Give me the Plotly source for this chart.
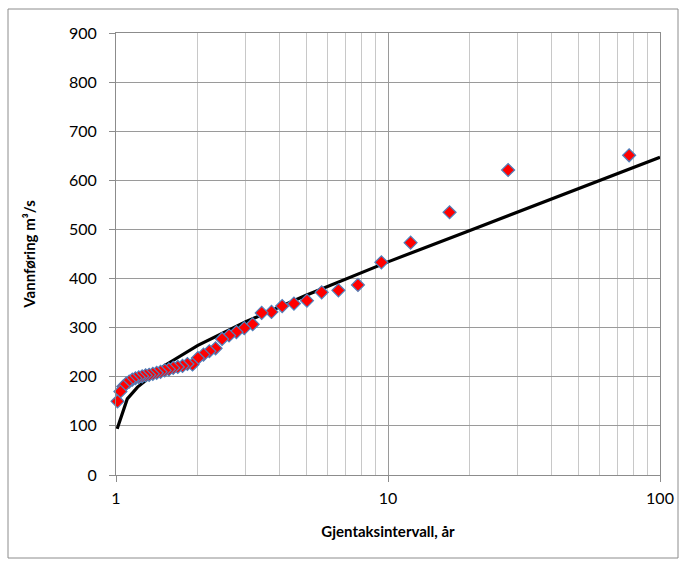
import plotly.graph_objects as go

# Observed annual flood peaks, plotted at their return period (years)
gjentak_obs = [77.0, 27.64, 16.84, 12.11, 9.456, 7.755, 6.573, 5.704, 5.037, 4.510,
               4.083, 3.730, 3.433, 3.180, 2.962, 2.771, 2.604, 2.455, 2.323, 2.204,
               2.097, 2.000, 1.911, 1.830, 1.756, 1.687, 1.623, 1.565, 1.510, 1.458,
               1.411, 1.366, 1.324, 1.285, 1.248, 1.213, 1.179, 1.148, 1.118, 1.090,
               1.063, 1.038, 1.013]
vannforing_obs = [651, 621, 535, 473, 433, 387, 376, 372, 355, 349,
                  344, 332, 330, 307, 299, 291, 284, 277, 258, 252,
                  245, 238, 225, 226, 222, 220, 218, 215, 213, 210,
                  208, 206, 204, 203, 201, 199, 197, 194, 190, 186,
                  180, 170, 150]

# Fitted frequency curve
gjentak_fit = [1.01, 1.1, 1.2, 1.5, 2, 3, 5, 10, 20, 50, 100]
vannforing_fit = [94, 155, 179, 222, 264, 312, 366, 434, 498, 582, 647]

y_ticks = [0, 100, 200, 300, 400, 500, 600, 700, 800, 900]
x_ticks = [1, 10, 100]
x_minor = [2, 3, 4, 5, 6, 7, 8, 9, 20, 30, 40, 50, 60, 70, 80, 90]

W, H = 686, 566
L, R, T, B = 116, 26, 33, 91

fig = go.Figure()
fig.add_trace(go.Scatter(
    x=gjentak_fit, y=vannforing_fit, mode="lines",
    line=dict(color="black", width=3.2), cliponaxis=False, showlegend=False))
fig.add_trace(go.Scatter(
    x=gjentak_obs, y=vannforing_obs, mode="markers",
    marker=dict(symbol="diamond", size=10, color="#FF0000",
                line=dict(color="#4F81BD", width=1.2)),
    cliponaxis=False, showlegend=False))

pw = W - L - R
ph = H - T - B
# outer chart frame
fig.add_shape(type="rect", xref="paper", yref="paper",
              x0=(8 - L) / pw, x1=(678 - L) / pw,
              y0=(H - B - 558) / ph, y1=(H - B - 9) / ph,
              line=dict(color="#8c8c8c", width=1), fillcolor="rgba(0,0,0,0)", layer="below")

fig.update_layout(
    width=W, height=H,
    margin=dict(l=L, r=R, t=T, b=B),
    paper_bgcolor="white", plot_bgcolor="white",
    font=dict(family="Lato, Open Sans, sans-serif", size=16, color="black"),
    xaxis=dict(
        type="log", range=[0, 2],
        tickvals=x_ticks, ticktext=[str(v) for v in x_ticks],
        showgrid=True, gridcolor="#9a9a9a", gridwidth=1,
        minor=dict(tickvals=x_minor, showgrid=True, gridcolor="#c8c8c8", gridwidth=1, ticks=""),
        ticks="outside", ticklen=6, tickcolor="#8c8c8c",
        showline=True, linecolor="#8c8c8c", mirror=True,
        zeroline=False, tickfont=dict(size=16), ticklabelstandoff=3,
        title=dict(text="<b>Gjentaksintervall, år</b>", font=dict(size=15), standoff=20),
    ),
    yaxis=dict(
        range=[0, 900], tickvals=y_ticks,
        showgrid=True, gridcolor="#9a9a9a", gridwidth=1,
        ticks="outside", ticklen=6, tickcolor="#8c8c8c",
        showline=True, linecolor="#8c8c8c", mirror=True,
        zeroline=False, tickfont=dict(size=16), ticklabelstandoff=9,
        title=dict(text="<b>Vannføring m³/s</b>", font=dict(size=15), standoff=29),
    ),
)

fig.write_html("out.html")
